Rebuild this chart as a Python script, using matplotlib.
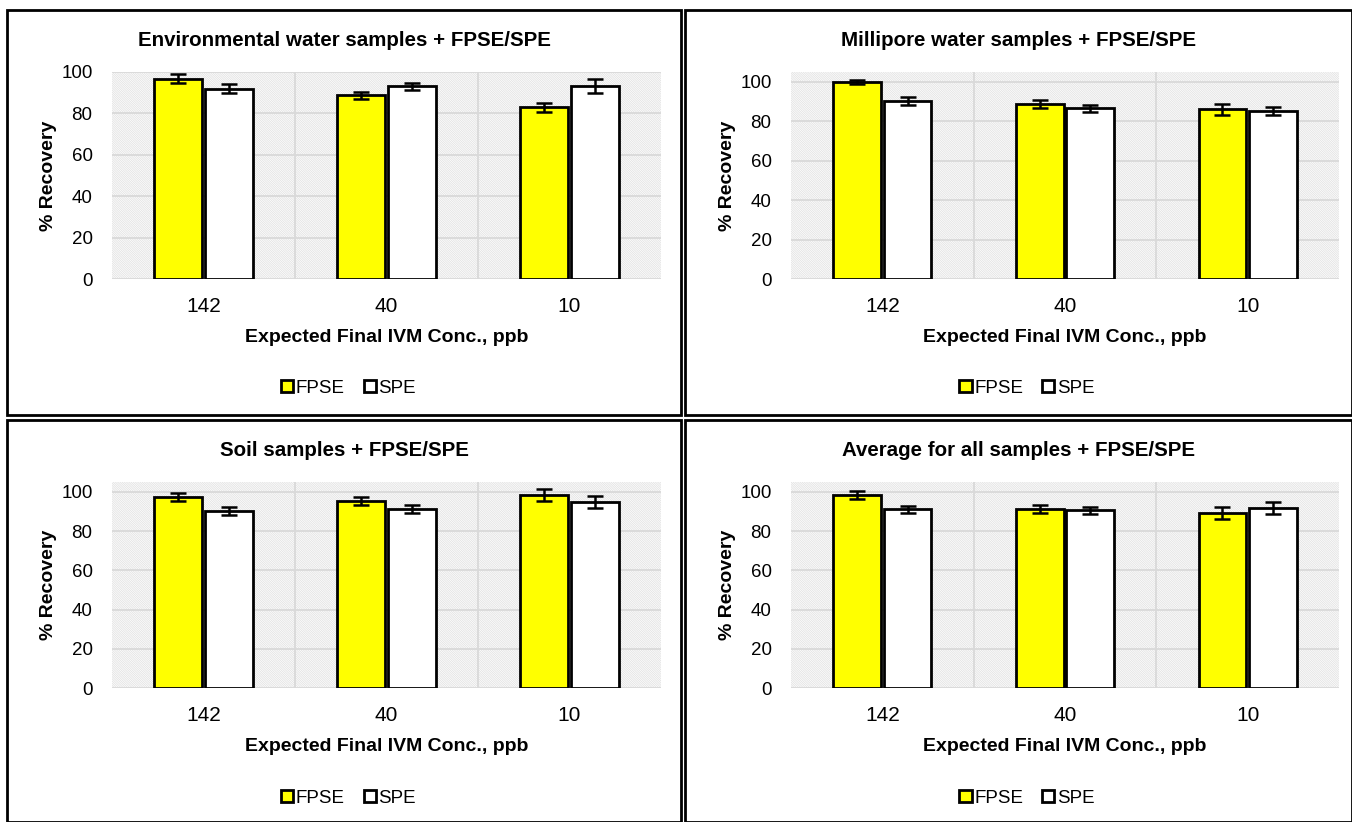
import matplotlib.pyplot as plt
import numpy as np
from matplotlib.patches import Rectangle, Patch

plt.rcParams['font.family'] = ['Liberation Sans', 'DejaVu Sans']
plt.rcParams['hatch.linewidth'] = 0.6

categories = ["142", "40", "10"]
series = ["FPSE", "SPE"]
titles = ["Environmental water samples + FPSE/SPE",
          "Millipore water samples + FPSE/SPE",
          "Soil samples + FPSE/SPE",
          "Average for all samples + FPSE/SPE"]

env_fpse = [96.8, 88.7, 82.9]
env_fpse_err = [2.2, 1.6, 2.3]
env_spe = [91.9, 93.1, 93.1]
env_spe_err = [2.2, 1.6, 3.3]

mil_fpse = [100.0, 88.8, 86.0]
mil_fpse_err = [1.0, 2.0, 3.0]
mil_spe = [90.5, 86.5, 85.0]
mil_spe_err = [2.0, 2.0, 2.0]

soil_fpse = [97.5, 95.3, 98.3]
soil_fpse_err = [2.0, 2.2, 3.0]
soil_spe = [90.2, 91.4, 95.0]
soil_spe_err = [2.0, 2.0, 3.0]

avg_fpse = [98.2, 91.2, 89.2]
avg_fpse_err = [2.0, 2.0, 3.0]
avg_spe = [91.0, 90.5, 91.7]
avg_spe_err = [2.0, 2.0, 3.0]

panels = [
    (env_fpse, env_fpse_err, env_spe, env_spe_err, 100),
    (mil_fpse, mil_fpse_err, mil_spe, mil_spe_err, 105),
    (soil_fpse, soil_fpse_err, soil_spe, soil_spe_err, 105),
    (avg_fpse, avg_fpse_err, avg_spe, avg_spe_err, 105),
]

W, H = 1352, 822
fig = plt.figure(figsize=(W / 100, H / 100), dpi=100)


def px_rect(x0, y0, x1, y1):
    return [x0 / W, 1 - y1 / H, (x1 - x0) / W, (y1 - y0) / H]


# panel boxes (pixels: left, top, right, bottom)
boxes = [(7, 10, 681, 415), (685, 10, 1352, 415),
         (7, 420, 681, 822), (685, 420, 1352, 822)]
plot_areas = [(112, 72, 661, 279), (791, 72, 1339, 279),
              (112, 482, 661, 688), (791, 482, 1339, 688)]

for b in boxes:
    fig.add_artist(Rectangle((b[0] / W, 1 - b[3] / H), (b[2] - b[0]) / W,
                             (b[3] - b[1]) / H, transform=fig.transFigure,
                             fill=False, edgecolor="black", lw=2))

x = np.arange(len(categories))
bw = 0.26
fill_colors = ["#ffff00", "white"]

for i, (fp, fpe, sp, spe, ytop) in enumerate(panels):
    b = boxes[i]
    pa = plot_areas[i]
    ax = fig.add_axes(px_rect(*pa))
    ax.add_patch(Rectangle((0, 0), 1, 1, transform=ax.transAxes,
                           facecolor="white", edgecolor="#e2e2e2", hatch="\\" * 15,
                           lw=0, zorder=0))
    for yv in range(20, 101, 20):
        ax.axhline(yv, color="#d9d9d9", lw=1.3, zorder=1)
    for xv in [0.5, 1.5]:
        ax.axvline(xv, color="#d9d9d9", lw=1.3, zorder=1)
    ax.axhline(0, color="#d9d9d9", lw=1.3, zorder=1)

    for vals, errs, off, c in [(fp, fpe, -bw / 2 - 0.008, fill_colors[0]),
                               (sp, spe, bw / 2 + 0.008, fill_colors[1])]:
        ax.bar(x + off, vals, bw, color=c, edgecolor="black", lw=2, zorder=3)
        ax.errorbar(x + off, vals, yerr=errs, fmt="none", ecolor="black",
                    elinewidth=1.8, capsize=6, capthick=1.8, zorder=4)

    ax.set_xlim(-0.5, 2.5)
    ax.set_ylim(0, ytop)
    ax.set_yticks(range(0, 101, 20))
    ax.set_xticks(x)
    ax.set_xticklabels(categories)
    ax.tick_params(axis="y", length=0, labelsize=13.5, pad=14)
    ax.tick_params(axis="x", length=0, labelsize=15, pad=13)
    for s in ax.spines.values():
        s.set_visible(False)
    ax.set_ylabel("% Recovery", fontsize=14, fontweight="bold", labelpad=3)
    ax.set_xlabel("Expected Final IVM Conc., ppb", fontsize=14, fontweight="bold",
                  labelpad=9)

    cx = (b[0] + b[2]) / 2 / W
    fig.text(cx, 1 - (b[1] + 30) / H, titles[i], ha="center", va="center",
             fontsize=14.8, fontweight="bold")

    handles = [Patch(facecolor=fill_colors[0], edgecolor="black", lw=2),
               Patch(facecolor=fill_colors[1], edgecolor="black", lw=2)]
    fig.legend(handles, series, loc="center",
               bbox_to_anchor=(((pa[0] + pa[2]) / 2 - 38) / W, 1 - (b[1] + 378) / H),
               ncol=2, frameon=False, fontsize=13.5, handlelength=0.65,
               handleheight=0.65, handletextpad=0.15, columnspacing=1.0)

fig.savefig("out.png", dpi=100)
